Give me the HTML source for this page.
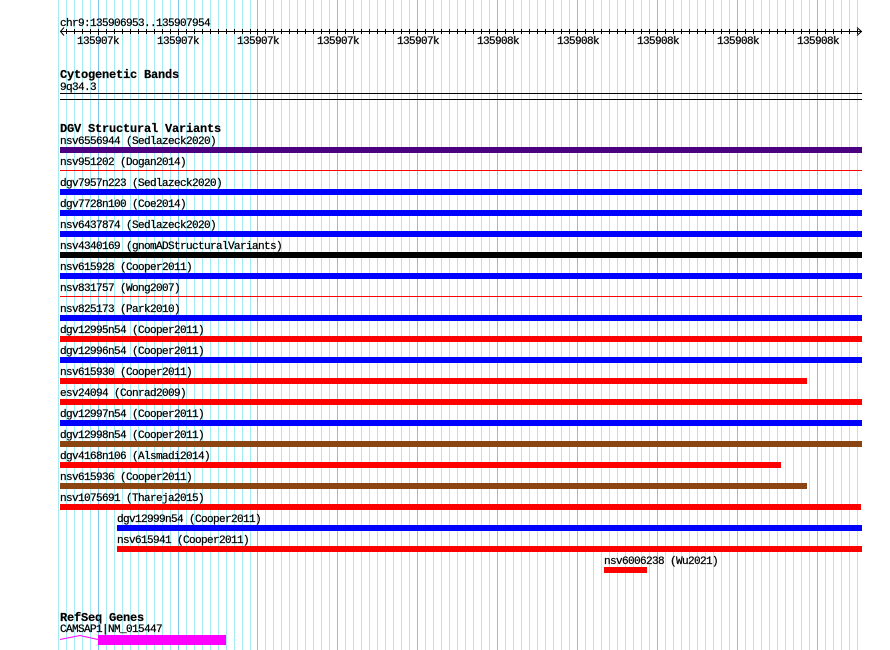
<!DOCTYPE html>
<html><head><meta charset="utf-8"><style>
html,body{margin:0;padding:0;background:#fff;}
body{width:890px;height:650px;overflow:hidden;}
svg{display:block;}
text{font-family:"Liberation Mono",monospace;font-size:11px;letter-spacing:-0.6px;fill:#000;stroke:#000;stroke-width:0.25px;}
text.b{font-weight:bold;font-size:12px;letter-spacing:-0.2px;stroke-width:0.2px;}
</style></head><body>
<svg width="890" height="650" viewBox="0 0 890 650" xmlns="http://www.w3.org/2000/svg">
<rect width="890" height="650" fill="#fff"/>
<g fill="#a4ecf0" shape-rendering="crispEdges">
<rect x="58" y="0" width="1" height="650"/><rect x="66" y="0" width="1" height="650"/><rect x="74" y="0" width="1" height="650"/><rect x="82" y="0" width="1" height="650"/><rect x="90" y="0" width="1" height="650"/>
<rect x="106" y="0" width="1" height="650"/><rect x="114" y="0" width="1" height="650"/><rect x="122" y="0" width="1" height="650"/><rect x="130" y="0" width="1" height="650"/><rect x="138" y="0" width="1" height="650"/><rect x="146" y="0" width="1" height="650"/><rect x="154" y="0" width="1" height="650"/><rect x="162" y="0" width="1" height="650"/><rect x="170" y="0" width="1" height="650"/>
<rect x="186" y="0" width="1" height="650"/><rect x="194" y="0" width="1" height="650"/><rect x="202" y="0" width="1" height="650"/><rect x="210" y="0" width="1" height="650"/><rect x="218" y="0" width="1" height="650"/><rect x="226" y="0" width="1" height="650"/><rect x="234" y="0" width="1" height="650"/><rect x="242" y="0" width="1" height="650"/><rect x="250" y="0" width="1" height="650"/>
<rect x="265" y="0" width="1" height="650"/><rect x="273" y="0" width="1" height="650"/><rect x="281" y="0" width="1" height="650"/><rect x="289" y="0" width="1" height="650"/><rect x="297" y="0" width="1" height="650"/><rect x="305" y="0" width="1" height="650"/><rect x="313" y="0" width="1" height="650"/><rect x="321" y="0" width="1" height="650"/><rect x="329" y="0" width="1" height="650"/>
<rect x="345" y="0" width="1" height="650"/><rect x="353" y="0" width="1" height="650"/><rect x="361" y="0" width="1" height="650"/><rect x="369" y="0" width="1" height="650"/><rect x="377" y="0" width="1" height="650"/><rect x="385" y="0" width="1" height="650"/><rect x="393" y="0" width="1" height="650"/><rect x="401" y="0" width="1" height="650"/><rect x="409" y="0" width="1" height="650"/>
<rect x="425" y="0" width="1" height="650"/><rect x="433" y="0" width="1" height="650"/><rect x="441" y="0" width="1" height="650"/><rect x="449" y="0" width="1" height="650"/><rect x="457" y="0" width="1" height="650"/><rect x="465" y="0" width="1" height="650"/><rect x="473" y="0" width="1" height="650"/><rect x="481" y="0" width="1" height="650"/><rect x="489" y="0" width="1" height="650"/>
<rect x="505" y="0" width="1" height="650"/><rect x="513" y="0" width="1" height="650"/><rect x="521" y="0" width="1" height="650"/><rect x="529" y="0" width="1" height="650"/><rect x="537" y="0" width="1" height="650"/><rect x="545" y="0" width="1" height="650"/><rect x="553" y="0" width="1" height="650"/><rect x="561" y="0" width="1" height="650"/><rect x="569" y="0" width="1" height="650"/>
<rect x="585" y="0" width="1" height="650"/><rect x="593" y="0" width="1" height="650"/><rect x="601" y="0" width="1" height="650"/><rect x="609" y="0" width="1" height="650"/><rect x="617" y="0" width="1" height="650"/><rect x="625" y="0" width="1" height="650"/><rect x="633" y="0" width="1" height="650"/><rect x="641" y="0" width="1" height="650"/><rect x="649" y="0" width="1" height="650"/>
<rect x="665" y="0" width="1" height="650"/><rect x="673" y="0" width="1" height="650"/><rect x="681" y="0" width="1" height="650"/><rect x="689" y="0" width="1" height="650"/><rect x="697" y="0" width="1" height="650"/><rect x="705" y="0" width="1" height="650"/><rect x="713" y="0" width="1" height="650"/><rect x="721" y="0" width="1" height="650"/><rect x="729" y="0" width="1" height="650"/>
<rect x="745" y="0" width="1" height="650"/><rect x="753" y="0" width="1" height="650"/><rect x="761" y="0" width="1" height="650"/><rect x="769" y="0" width="1" height="650"/><rect x="777" y="0" width="1" height="650"/><rect x="785" y="0" width="1" height="650"/><rect x="793" y="0" width="1" height="650"/><rect x="801" y="0" width="1" height="650"/><rect x="809" y="0" width="1" height="650"/>
<rect x="825" y="0" width="1" height="650"/><rect x="833" y="0" width="1" height="650"/><rect x="841" y="0" width="1" height="650"/><rect x="849" y="0" width="1" height="650"/><rect x="857" y="0" width="1" height="650"/>
</g>
<g fill="#7cc6ee" shape-rendering="crispEdges">
<rect x="98" y="0" width="1" height="650"/><rect x="178" y="0" width="1" height="650"/><rect x="257" y="0" width="1" height="650"/><rect x="337" y="0" width="1" height="650"/><rect x="417" y="0" width="1" height="650"/><rect x="497" y="0" width="1" height="650"/><rect x="577" y="0" width="1" height="650"/><rect x="657" y="0" width="1" height="650"/><rect x="737" y="0" width="1" height="650"/><rect x="817" y="0" width="1" height="650"/>
</g>

<!-- ruler -->
<text x="60" y="26">chr9:135906953..135907954</text>
<rect x="60" y="31" width="802" height="1" fill="#000" shape-rendering="crispEdges"/>
<path stroke="#000" stroke-width="1" fill="none" d="M64 27.5L60.5 31.5L64 35.5M857 27.5L861.5 31.5L857 35.5"/>
<path stroke="#000" stroke-width="1" fill="none" shape-rendering="crispEdges" d="
M66.5 29V34M74.5 29V34M82.5 29V34M90.5 29V34
M98.5 29V35M106.5 29V34M114.5 29V34M122.5 29V34M130.5 29V34M138.5 29V34M146.5 29V34M154.5 29V34M162.5 29V34M170.5 29V34
M178.5 29V35M186.5 29V34M194.5 29V34M202.5 29V34M210.5 29V34M218.5 29V34M226.5 29V34M234.5 29V34M242.5 29V34M250.5 29V34
M257.5 29V35M265.5 29V34M273.5 29V34M281.5 29V34M289.5 29V34M297.5 29V34M305.5 29V34M313.5 29V34M321.5 29V34M329.5 29V34
M337.5 29V35M345.5 29V34M353.5 29V34M361.5 29V34M369.5 29V34M377.5 29V34M385.5 29V34M393.5 29V34M401.5 29V34M409.5 29V34
M417.5 29V35M425.5 29V34M433.5 29V34M441.5 29V34M449.5 29V34M457.5 29V34M465.5 29V34M473.5 29V34M481.5 29V34M489.5 29V34
M497.5 29V35M505.5 29V34M513.5 29V34M521.5 29V34M529.5 29V34M537.5 29V34M545.5 29V34M553.5 29V34M561.5 29V34M569.5 29V34
M577.5 29V35M585.5 29V34M593.5 29V34M601.5 29V34M609.5 29V34M617.5 29V34M625.5 29V34M633.5 29V34M641.5 29V34M649.5 29V34
M657.5 29V35M665.5 29V34M673.5 29V34M681.5 29V34M689.5 29V34M697.5 29V34M705.5 29V34M713.5 29V34M721.5 29V34M729.5 29V34
M737.5 29V35M745.5 29V34M753.5 29V34M761.5 29V34M769.5 29V34M777.5 29V34M785.5 29V34M793.5 29V34M801.5 29V34M809.5 29V34
M817.5 29V35M825.5 29V34M833.5 29V34M841.5 29V34M849.5 29V34M857.5 29V34"/>
<text x="77" y="44">135907k</text>
<text x="157" y="44">135907k</text>
<text x="237" y="44">135907k</text>
<text x="317" y="44">135907k</text>
<text x="397" y="44">135907k</text>
<text x="477" y="44">135908k</text>
<text x="557" y="44">135908k</text>
<text x="637" y="44">135908k</text>
<text x="717" y="44">135908k</text>
<text x="797" y="44">135908k</text>

<!-- cytogenetic bands -->
<text class="b" x="60" y="78">Cytogenetic Bands</text>
<text x="60" y="90">9q34.3</text>
<g shape-rendering="crispEdges">
<rect x="60" y="93" width="802" height="1" fill="#000"/>
<rect x="60" y="99" width="802" height="1" fill="#000"/>
</g>

<!-- DGV -->
<text class="b" x="60" y="132">DGV Structural Variants</text>

<g shape-rendering="crispEdges">
<rect x="60" y="147" width="802" height="6" fill="#4b0082"/>
<rect x="60" y="170" width="802" height="1" fill="#ff0000"/>
<rect x="60" y="189" width="802" height="6" fill="#0000ff"/>
<rect x="60" y="210" width="802" height="6" fill="#0000ff"/>
<rect x="60" y="231" width="802" height="6" fill="#0000ff"/>
<rect x="60" y="252" width="802" height="6" fill="#000000"/>
<rect x="60" y="273" width="802" height="6" fill="#0000ff"/>
<rect x="60" y="296" width="802" height="1" fill="#ff0000"/>
<rect x="60" y="315" width="802" height="6" fill="#0000ff"/>
<rect x="60" y="336" width="802" height="6" fill="#ff0000"/>
<rect x="60" y="357" width="802" height="6" fill="#0000ff"/>
<rect x="60" y="378" width="747" height="6" fill="#ff0000"/>
<rect x="60" y="399" width="802" height="6" fill="#ff0000"/>
<rect x="60" y="420" width="802" height="6" fill="#0000ff"/>
<rect x="60" y="441" width="802" height="6" fill="#8b4513"/>
<rect x="60" y="462" width="721" height="6" fill="#ff0000"/>
<rect x="60" y="483" width="747" height="6" fill="#8b4513"/>
<rect x="60" y="504" width="801" height="6" fill="#ff0000"/>
<rect x="117" y="525" width="745" height="6" fill="#0000ff"/>
<rect x="117" y="546" width="745" height="6" fill="#ff0000"/>
<rect x="604" y="567" width="43" height="6" fill="#ff0000"/>
<rect x="98" y="635" width="128" height="10" fill="#ff00ff"/>
</g>

<text x="60" y="144">nsv6556944 (Sedlazeck2020)</text>
<text x="60" y="165">nsv951202 (Dogan2014)</text>
<text x="60" y="186">dgv7957n223 (Sedlazeck2020)</text>
<text x="60" y="207">dgv7728n100 (Coe2014)</text>
<text x="60" y="228">nsv6437874 (Sedlazeck2020)</text>
<text x="60" y="249">nsv4340169 (gnomADStructuralVariants)</text>
<text x="60" y="270">nsv615928 (Cooper2011)</text>
<text x="60" y="291">nsv831757 (Wong2007)</text>
<text x="60" y="312">nsv825173 (Park2010)</text>
<text x="60" y="333">dgv12995n54 (Cooper2011)</text>
<text x="60" y="354">dgv12996n54 (Cooper2011)</text>
<text x="60" y="375">nsv615930 (Cooper2011)</text>
<text x="60" y="396">esv24094 (Conrad2009)</text>
<text x="60" y="417">dgv12997n54 (Cooper2011)</text>
<text x="60" y="438">dgv12998n54 (Cooper2011)</text>
<text x="60" y="459">dgv4168n106 (Alsmadi2014)</text>
<text x="60" y="480">nsv615936 (Cooper2011)</text>
<text x="60" y="501">nsv1075691 (Thareja2015)</text>
<text x="117" y="522">dgv12999n54 (Cooper2011)</text>
<text x="117" y="543">nsv615941 (Cooper2011)</text>
<text x="604" y="564">nsv6006238 (Wu2021)</text>

<!-- RefSeq -->
<text class="b" x="60" y="621">RefSeq Genes</text>
<text x="60" y="632">CAMSAP1|NM_015447</text>
<polyline points="60,639.5 80,635.5 98,639.5" fill="none" stroke="#ff00ff" stroke-width="1"/>
</svg>
</body></html>
